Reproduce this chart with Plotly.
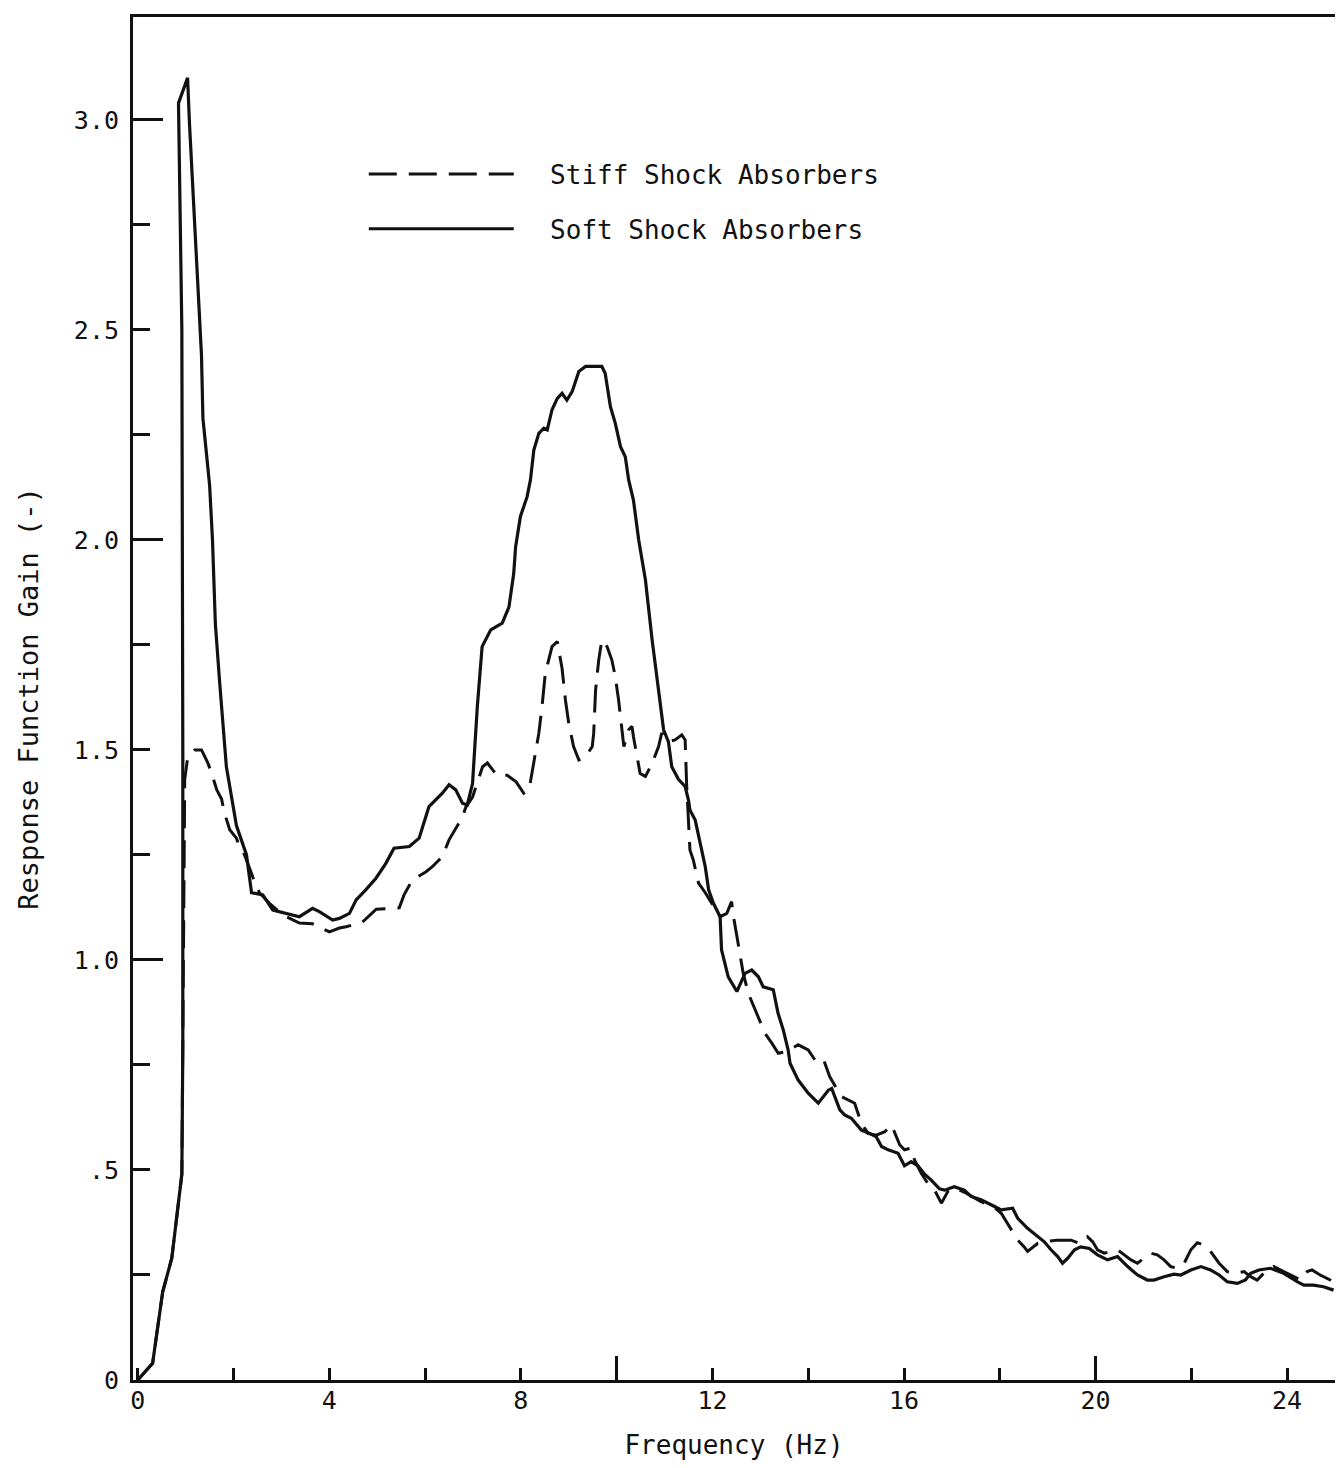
import plotly.graph_objects as go

# Soft shock absorbers (solid line) - frequency in Hz, gain (-)
soft_freq = [
    0.0, 0.31, 0.52, 0.71, 0.92, 0.94, 0.94, 0.92, 0.85, 1.04, 1.08, 1.25, 1.33, 1.36,
    1.5, 1.56, 1.62, 1.71, 1.85, 2.06, 2.27, 2.375, 2.61, 2.82, 3.1, 3.375, 3.65, 3.79,
    4.07, 4.21, 4.42, 4.56, 4.76, 4.97, 5.18, 5.35, 5.67, 5.875, 6.08, 6.36, 6.5, 6.64,
    6.78, 6.88, 6.99, 7.09, 7.19, 7.37, 7.61, 7.75, 7.85, 7.89, 7.99, 8.13, 8.2, 8.27,
    8.375, 8.48, 8.55, 8.65, 8.76, 8.86, 8.96, 9.07, 9.21, 9.35, 9.69, 9.76, 9.87, 9.97,
    10.08, 10.18, 10.25, 10.35, 10.46, 10.6, 10.74, 10.875, 10.98, 11.08, 11.15, 11.29,
    11.43, 11.5, 11.53, 11.64, 11.74, 11.85, 11.92, 12.02, 12.16, 12.19, 12.33, 12.51,
    12.68, 12.82, 12.96, 13.06, 13.27, 13.37, 13.48, 13.58, 13.62, 13.79, 14.0, 14.21,
    14.42, 14.49, 14.66, 14.76, 14.9, 15.11, 15.28, 15.42, 15.53, 15.67, 15.875, 16.01,
    16.15, 16.29, 16.43, 16.57, 16.74, 16.85, 17.05, 17.26, 17.4, 17.61, 17.89, 18.03,
    18.27, 18.375, 18.58, 18.79, 18.93, 19.07, 19.21, 19.31, 19.42, 19.56, 19.69, 19.87,
    20.04, 20.25, 20.46, 20.67, 20.875, 21.08, 21.22, 21.43, 21.64, 21.78, 21.99, 22.2,
    22.4, 22.58, 22.75, 22.96, 23.13, 23.24, 23.41, 23.65, 23.93, 24.21, 24.35, 24.55,
    24.76, 24.97,
]
soft_gain = [
    0.0, 0.04, 0.21, 0.29, 0.49, 0.79, 1.5, 2.5, 3.04, 3.10, 2.99, 2.62, 2.44, 2.29,
    2.13, 2.0, 1.80, 1.66, 1.46, 1.32, 1.25, 1.16, 1.155, 1.119, 1.111, 1.103, 1.123, 1.115,
    1.095, 1.099, 1.111, 1.143, 1.167, 1.194, 1.23, 1.266, 1.27, 1.29, 1.365, 1.397, 1.417, 1.405,
    1.373, 1.369, 1.42, 1.603, 1.746, 1.786, 1.802, 1.84, 1.92, 1.984, 2.056, 2.103, 2.143, 2.214,
    2.254, 2.266, 2.262, 2.31, 2.337, 2.349, 2.333, 2.353, 2.401, 2.413, 2.413, 2.397, 2.317, 2.278,
    2.222, 2.198, 2.143, 2.095, 2.0, 1.905, 1.762, 1.643, 1.548, 1.52, 1.46, 1.43,
    1.413, 1.38, 1.357, 1.333, 1.278, 1.222, 1.167, 1.135, 1.103, 1.024, 0.96, 0.925,
    0.968, 0.976, 0.96, 0.936, 0.929, 0.873, 0.833, 0.786, 0.754, 0.714, 0.683, 0.659,
    0.69, 0.694, 0.643, 0.631, 0.623, 0.595, 0.587, 0.579, 0.556, 0.548, 0.54, 0.51,
    0.52, 0.51, 0.49, 0.476, 0.455, 0.452, 0.46, 0.452, 0.437, 0.429, 0.413, 0.405,
    0.409, 0.385, 0.361, 0.341, 0.329, 0.31, 0.294, 0.278, 0.29, 0.31, 0.317, 0.313,
    0.298, 0.286, 0.294, 0.27, 0.25, 0.238, 0.238, 0.246, 0.252, 0.25, 0.262, 0.27,
    0.262, 0.25, 0.234, 0.23, 0.238, 0.254, 0.262, 0.266, 0.254, 0.234, 0.226, 0.226,
    0.222, 0.214,
]

# Stiff shock absorbers (dashed line)
stiff_freq = [
    0.0, 0.31, 0.52, 0.71, 0.92, 0.94, 0.96, 0.98, 1.04, 1.19, 1.33, 1.46, 1.54, 1.65,
    1.75, 1.81, 1.92, 2.06, 2.125, 2.23, 2.4, 2.54, 2.75, 2.9, 3.1, 3.375, 3.65, 4.0,
    4.21, 4.35, 4.69, 4.98, 5.46, 5.56, 5.73, 6.02, 6.15, 6.36, 6.5, 6.78, 6.85, 6.99,
    7.2, 7.3, 7.5, 7.71, 7.9, 8.06, 8.17, 8.27, 8.375, 8.44, 8.51, 8.65, 8.76, 8.86,
    8.93, 9.0, 9.1, 9.21, 9.35, 9.49, 9.52, 9.56, 9.625, 9.69, 9.8, 9.9, 9.97, 10.04,
    10.08, 10.15, 10.25, 10.32, 10.35, 10.42, 10.49, 10.6, 10.74, 10.875, 10.94, 11.08,
    11.22, 11.36, 11.43, 11.46, 11.5, 11.53, 11.6, 11.71, 11.85, 11.99, 12.16, 12.3,
    12.4, 12.44, 12.5, 12.54, 12.64, 12.75, 12.89, 13.0, 13.1, 13.24, 13.375, 13.55,
    13.79, 14.0, 14.14, 14.31, 14.45, 14.69, 14.97, 15.11, 15.25, 15.42, 15.6, 15.74,
    15.81, 15.91, 16.01, 16.15, 16.22, 16.36, 16.5, 16.64, 16.78, 16.92, 17.05, 17.3,
    17.6, 17.9, 18.03, 18.24, 18.375, 18.51, 18.58, 18.79, 18.93, 19.21, 19.49, 19.66,
    19.83, 19.94, 20.04, 20.18, 20.32, 20.46, 20.6, 20.74, 20.875, 21.01, 21.15, 21.29,
    21.43, 21.57, 21.71, 21.85, 21.99, 22.125, 22.26, 22.4, 22.47, 22.58, 22.75, 22.89,
    23.1, 23.24, 23.375, 23.51, 23.72, 23.93, 24.14, 24.28, 24.42, 24.52, 24.69, 24.9,
    25.0,
]
stiff_gain = [
    0.0, 0.04, 0.21, 0.29, 0.49, 0.79, 1.2, 1.43, 1.48, 1.50, 1.50, 1.47, 1.445, 1.405,
    1.383, 1.35, 1.31, 1.29, 1.27, 1.25, 1.198, 1.16, 1.135, 1.12, 1.103, 1.088, 1.086, 1.067,
    1.076, 1.079, 1.09, 1.121, 1.124, 1.155, 1.19, 1.21, 1.222, 1.246, 1.286, 1.34, 1.364, 1.388,
    1.46, 1.469, 1.44, 1.44, 1.424, 1.397, 1.405, 1.469, 1.54, 1.602, 1.683, 1.746, 1.758, 1.694,
    1.619, 1.563, 1.508, 1.476, 1.484, 1.508, 1.54, 1.643, 1.714, 1.762, 1.746, 1.714, 1.675, 1.619,
    1.579, 1.508, 1.548, 1.556, 1.532, 1.484, 1.444, 1.437, 1.468, 1.508, 1.54, 1.52,
    1.524, 1.536, 1.524, 1.42, 1.341, 1.262, 1.238, 1.183, 1.16, 1.135, 1.103, 1.111,
    1.139, 1.103, 1.064, 1.032, 0.97, 0.92, 0.881, 0.849, 0.825, 0.802, 0.778, 0.782,
    0.798, 0.786, 0.762, 0.766, 0.722, 0.675, 0.659, 0.611, 0.587, 0.583, 0.591, 0.607,
    0.587, 0.56, 0.548, 0.552, 0.524, 0.492, 0.468, 0.452, 0.421, 0.45, 0.458, 0.445,
    0.425, 0.41, 0.397, 0.357, 0.333, 0.317, 0.306, 0.325, 0.329, 0.333, 0.333, 0.325,
    0.341, 0.329, 0.31, 0.302, 0.306, 0.31, 0.298, 0.286, 0.278, 0.29, 0.302, 0.298,
    0.286, 0.27, 0.266, 0.278, 0.31, 0.327, 0.321, 0.306, 0.294, 0.278, 0.258, 0.254,
    0.258, 0.246, 0.238, 0.254, 0.27, 0.258, 0.246, 0.238, 0.258, 0.262, 0.25, 0.238,
    0.23,
]

x_tickvals = list(range(0, 25, 2))
x_ticktext = ["0", "", "4", "", "8", "", "12", "", "16", "", "20", "", "24"]
y_tickvals = [i * 0.25 for i in range(13)]
y_ticktext = ["0", "", ".5", "", "1.0", "", "1.5", "", "2.0", "", "2.5", "", "3.0"]

FONT = "DejaVu Sans Mono"
INK = "#111111"
GAP = "\u00a0\u00a0"  # space between legend sample line and its text

fig = go.Figure()

fig.add_trace(
    go.Scatter(
        x=stiff_freq,
        y=stiff_gain,
        name=GAP + "Stiff Shock Absorbers",
        mode="lines",
        line=dict(color=INK, width=3, dash="28px,12px"),
        legendgroup="stiff",
    )
)
fig.add_trace(
    go.Scatter(
        x=soft_freq,
        y=soft_gain,
        name=GAP + "Soft Shock Absorbers",
        mode="lines",
        line=dict(color=INK, width=3.2),
        legendgroup="soft",
    )
)

# page body adds an 8px margin, so the figure is drawn 8px smaller than the window
fig.update_layout(
    width=1335,
    height=1460,
    margin=dict(l=125, r=5, t=9, b=88),
    paper_bgcolor="white",
    plot_bgcolor="white",
    font=dict(family=FONT, size=26, color=INK),
    showlegend=True,
    legend=dict(
        x=0.192,
        y=0.902,
        xanchor="left",
        yanchor="top",
        bgcolor="rgba(0,0,0,0)",
        itemwidth=145,
        tracegroupgap=18,
        font=dict(family=FONT, size=26, color=INK),
    ),
)

fig.update_xaxes(
    range=[-0.1, 25.0],
    tickmode="array",
    tickvals=x_tickvals,
    ticktext=x_ticktext,
    ticks="inside",
    ticklen=12,
    tickwidth=3,
    tickcolor=INK,
    minor=dict(tickmode="array", tickvals=[10, 20], ticks="inside", ticklen=24, tickwidth=3, tickcolor=INK),
    showline=True,
    linewidth=3,
    linecolor=INK,
    mirror=True,
    showgrid=False,
    zeroline=False,
    ticklabelstandoff=-4,
    tickfont=dict(family=FONT, size=25, color=INK),
    title=dict(text="Frequency (Hz)", font=dict(family=FONT, size=26, color=INK), standoff=22),
)

fig.update_yaxes(
    range=[0, 3.245],
    tickmode="array",
    tickvals=y_tickvals,
    ticktext=y_ticktext,
    ticks="inside",
    ticklen=17,
    tickwidth=3,
    tickcolor=INK,
    minor=dict(tickmode="array", tickvals=[0, 1, 2, 3], ticks="inside", ticklen=30, tickwidth=3, tickcolor=INK),
    showline=True,
    linewidth=3,
    linecolor=INK,
    mirror=True,
    showgrid=False,
    zeroline=False,
    ticklabelstandoff=6,
    tickfont=dict(family=FONT, size=25, color=INK),
    title=dict(text="Response Function Gain (-)", font=dict(family=FONT, size=27, color=INK), standoff=28),
)

fig.write_html("out.html")
